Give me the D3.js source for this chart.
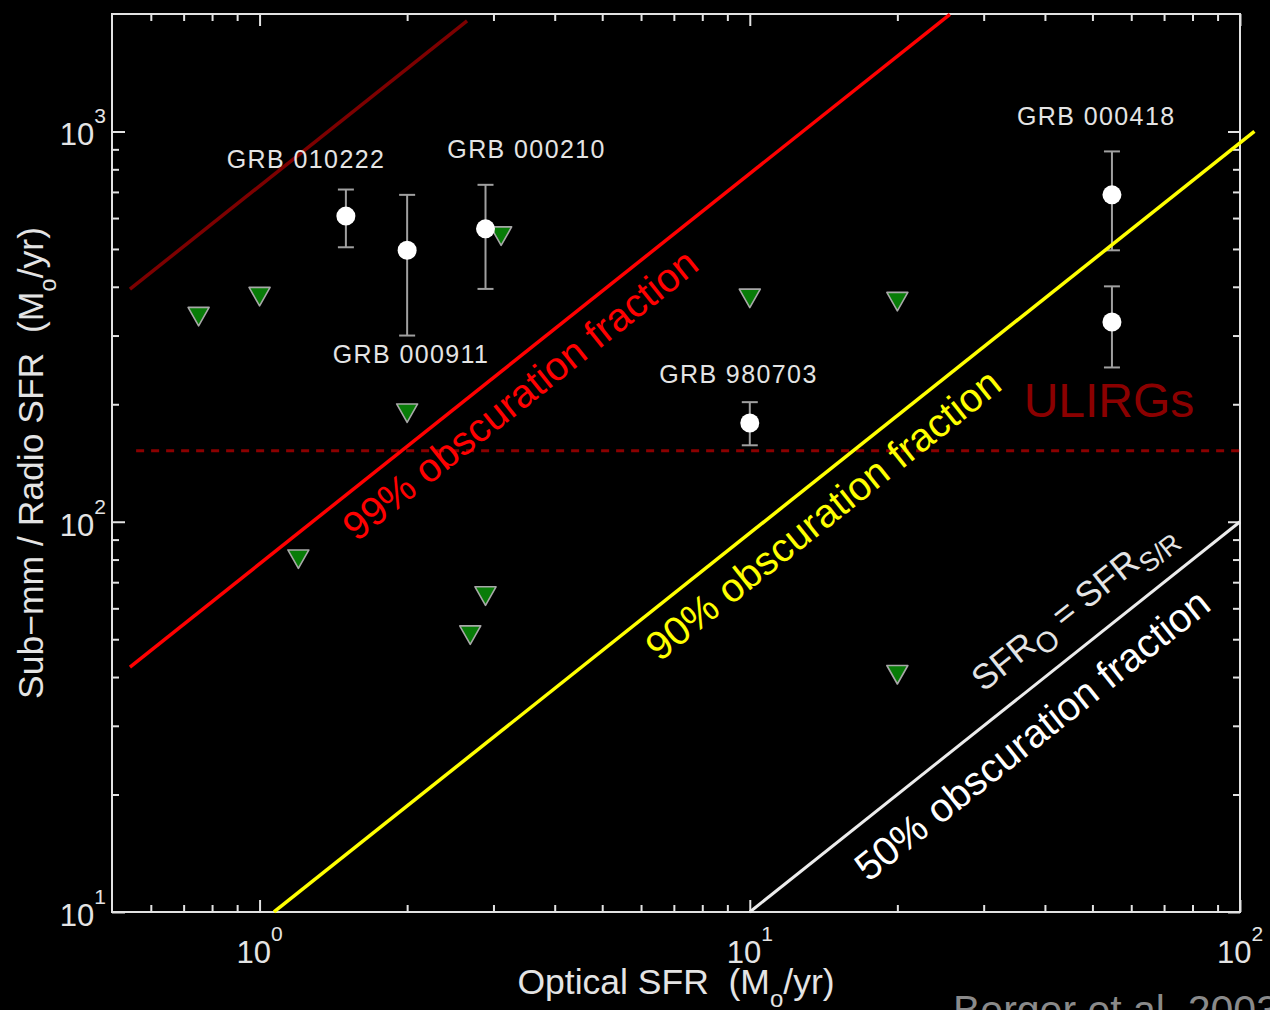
<!DOCTYPE html>
<html>
<head>
<meta charset="utf-8">
<script src="https://cdn.jsdelivr.net/npm/d3@7"></script>
<style>
  html, body { margin: 0; padding: 0; background: #000; }
  svg { display: block; font-family: Arial, "Liberation Sans", sans-serif; }
</style>
</head>
<body>
<svg id="chart" width="1270" height="1010"></svg>
<script>
// ---- GRB host detections: optical SFR vs sub-mm / radio SFR (Msun/yr) ----
const detX  = [1.50, 2.00, 2.89, 10.0, 54.8, 54.8];
const detY  = [607, 496, 563, 179, 688, 325];
const detHi = [710, 688, 730, 202.5, 889, 401];
const detLo = [505, 300, 395, 157, 496, 248.5];

// ---- upper limits (non-detections) ----
const limX = [0.751, 1.00, 2.00, 1.20, 2.89, 2.69, 3.11, 10.0, 20.0, 20.0];
const limY = [336, 378, 190, 80.3, 64.6, 51.3, 540, 374, 367, 40.6];

// ---- burst names and where they are written ----
const grbNames  = ["GRB 010222", "GRB 000210", "GRB 000911", "GRB 980703", "GRB 000418"];
const grbLabelX = [1.244, 3.505, 2.037, 9.48, 50.9];
const grbLabelY = [804, 853, 255, 226.5, 1036];

// ---- constant-ratio lines SFR_S/R = ratio * SFR_O ----
const lineKeys   = ["envelope", "f99", "f90", "f50"];
const lineRatio  = [725, 78, 9.35, 1];
const lineXStart = [0.544, 0.544, 1.07, 10];
const lineXEnd   = [2.65, 25.6, 107, 100];

// ---- ULIRG threshold ----
const ulirgSFR = 152;
const ulirgXRange = [0.56, 100];
const ulirgLabelX = 80.7;

// ---- axis ticks ----
const xMajor = [1, 10, 100];
const xMinor = [0.6, 0.7, 0.8, 0.9, 2, 3, 4, 5, 6, 7, 8, 9, 20, 30, 40, 50, 60, 70, 80, 90];
const yMajor = [10, 100, 1000];
const yMinor = [20, 30, 40, 50, 60, 70, 80, 90, 200, 300, 400, 500, 600, 700, 800, 900];
const xTickExp = ["0", "1", "2"];
const yTickExp = ["1", "2", "3"];

// ---- line labels (start point of the baseline, data units) ----
const lineLabelText = ["99% obscuration fraction", "90% obscuration fraction", "50% obscuration fraction"];
const lineLabelX = [1.577, 6.54, 17.46];
const lineLabelY = [88.5, 43.6, 11.89];
const equalityLabelX = 29.97, equalityLabelY = 36.5;

// ---- styling ----
const colors = {
  envelope: "#7d0000", f99: "#ff0000", f90: "#ffff00", f50: "#ececec",
  ulirg: "#8b0000", frame: "#e2e2e2", text: "#e4e4e4", err: "#a0a0a0",
  tri: "#087c08", triEdge: "#a8a8a8", credit: "#8a8a8a"
};
const labelColors = [colors.f99, colors.f90, "#ffffff"];
const NBSP = "\u00a0";

const svg = d3.select("#chart");
const W = 1270, H = 1010;
svg.append("rect").attr("width", W).attr("height", H).attr("fill", "#000");

const plot = { left: 112, right: 1240, top: 14, bottom: 912 };
const x = d3.scaleLog().domain([0.5, 100]).range([plot.left, plot.right]);
const y = d3.scaleLog().domain([10, 2000]).range([plot.bottom, plot.top]);

// ---- ticks via d3 axes (pointing inward on all four sides) ----
function axisGroup(axis, tx, ty) {
  const g = svg.append("g").attr("transform", `translate(${tx},${ty})`).call(axis);
  g.select(".domain").remove();
  g.selectAll("line").attr("stroke", colors.frame).attr("stroke-width", 2);
  g.selectAll("text").remove();
  return g;
}
axisGroup(d3.axisBottom(x).tickValues(xMajor).tickSize(-12).tickFormat(""), 0, plot.bottom);
axisGroup(d3.axisBottom(x).tickValues(xMinor).tickSize(-7).tickFormat(""), 0, plot.bottom);
axisGroup(d3.axisTop(x).tickValues(xMajor).tickSize(-12).tickFormat(""), 0, plot.top);
axisGroup(d3.axisTop(x).tickValues(xMinor).tickSize(-7).tickFormat(""), 0, plot.top);
axisGroup(d3.axisLeft(y).tickValues(yMajor).tickSize(-13).tickFormat(""), plot.left, 0);
axisGroup(d3.axisLeft(y).tickValues(yMinor).tickSize(-7).tickFormat(""), plot.left, 0);
axisGroup(d3.axisRight(y).tickValues(yMajor).tickSize(-12).tickFormat(""), plot.right, 0);
axisGroup(d3.axisRight(y).tickValues(yMinor).tickSize(-7).tickFormat(""), plot.right, 0);

// frame
svg.append("rect")
  .attr("x", plot.left).attr("y", plot.top)
  .attr("width", plot.right - plot.left).attr("height", plot.bottom - plot.top)
  .attr("fill", "none").attr("stroke", colors.frame).attr("stroke-width", 2);

// ---- tick labels: 10^n ----
xMajor.forEach((v, i) => {
  const t = svg.append("text")
    .attr("x", x(v)).attr("y", plot.bottom + 51)
    .attr("text-anchor", "middle").attr("fill", colors.text)
    .attr("font-size", 31);
  t.append("tspan").text("10");
  t.append("tspan").attr("dy", -22).attr("font-size", 21).text(xTickExp[i]);
});
yMajor.forEach((v, i) => {
  const t = svg.append("text")
    .attr("x", plot.left - 6).attr("y", y(v) + 14)
    .attr("text-anchor", "end").attr("fill", colors.text)
    .attr("font-size", 31);
  t.append("tspan").text("10");
  t.append("tspan").attr("dy", -22).attr("font-size", 21).text(yTickExp[i]);
});

// ---- axis titles ----
const xt = svg.append("text")
  .attr("x", (plot.left + plot.right) / 2).attr("y", 994)
  .attr("text-anchor", "middle").attr("fill", colors.text).attr("font-size", 35.5);
xt.append("tspan").text("Optical SFR " + NBSP + "(M");
xt.append("tspan").attr("dy", 13).attr("font-size", 24).text("o");
xt.append("tspan").attr("dy", -13).text("/yr)");

const yt = svg.append("text")
  .attr("transform", `translate(43,${(plot.top + plot.bottom) / 2}) rotate(-90)`)
  .attr("text-anchor", "middle").attr("fill", colors.text).attr("font-size", 35.5);
yt.append("tspan").text("Sub\u2212mm / Radio SFR " + NBSP + "(M");
yt.append("tspan").attr("dy", 13).attr("font-size", 24).text("o");
yt.append("tspan").attr("dy", -13).text("/yr)");

// ---- ULIRG threshold ----
svg.append("line")
  .attr("x1", x(ulirgXRange[0])).attr("x2", x(ulirgXRange[1]))
  .attr("y1", y(ulirgSFR)).attr("y2", y(ulirgSFR))
  .attr("stroke", colors.ulirg).attr("stroke-width", 3)
  .attr("stroke-dasharray", "8,7");
svg.append("text")
  .attr("x", x(ulirgLabelX)).attr("y", y(ulirgSFR) - 34)
  .attr("text-anchor", "end").attr("fill", colors.ulirg)
  .attr("font-size", 48).text("ULIRGs");

// ---- error bars ----
const err = svg.append("g").attr("stroke", colors.err).attr("stroke-width", 2);
detX.forEach((vx, i) => {
  const cx = x(vx);
  err.append("line").attr("x1", cx).attr("x2", cx).attr("y1", y(detLo[i])).attr("y2", y(detHi[i]));
  err.append("line").attr("x1", cx - 8).attr("x2", cx + 8).attr("y1", y(detLo[i])).attr("y2", y(detLo[i]));
  err.append("line").attr("x1", cx - 8).attr("x2", cx + 8).attr("y1", y(detHi[i])).attr("y2", y(detHi[i]));
});

// ---- constant obscuration lines ----
const lineGen = d3.line().x(d => x(d[0])).y(d => y(d[1]));
lineKeys.forEach((k, i) => {
  const pts = [[lineXStart[i], lineXStart[i] * lineRatio[i]], [lineXEnd[i], lineXEnd[i] * lineRatio[i]]];
  svg.append("path").attr("d", lineGen(pts))
    .attr("fill", "none").attr("stroke", colors[k])
    .attr("stroke-width", k === "f50" ? 3 : 3.5);
});

// ---- upper limits: downward triangles ----
svg.append("g").selectAll("path").data(limX.map((v, i) => [v, limY[i]])).join("path")
  .attr("transform", d => `translate(${x(d[0])},${y(d[1])})`)
  .attr("d", "M-10.5,-9 L10.5,-9 L0,9.5 Z")
  .attr("fill", colors.tri).attr("stroke", colors.triEdge).attr("stroke-width", 1.6)
  .attr("stroke-linejoin", "round");

// ---- detections ----
svg.append("g").selectAll("circle").data(detX.map((v, i) => [v, detY[i]])).join("circle")
  .attr("cx", d => x(d[0])).attr("cy", d => y(d[1])).attr("r", 9.5)
  .attr("fill", "#fff");

// ---- burst labels ----
grbNames.forEach((n, i) => {
  svg.append("text")
    .attr("x", x(grbLabelX[i])).attr("y", y(grbLabelY[i]))
    .attr("text-anchor", "middle").attr("fill", colors.text)
    .attr("font-size", 25).attr("letter-spacing", 1.4).text(n);
});

// ---- line labels, rotated to the slope of a unit-slope line in log-log ----
const angle = -Math.atan2(y(10) - y(100), x(10) - x(1)) * 180 / Math.PI;
lineLabelText.forEach((t, i) => {
  svg.append("text")
    .attr("transform", `translate(${x(lineLabelX[i])},${y(lineLabelY[i])}) rotate(${angle})`)
    .attr("fill", labelColors[i]).attr("font-size", 40).text(t);
});
const eq = svg.append("text")
  .attr("transform", `translate(${x(equalityLabelX)},${y(equalityLabelY)}) rotate(${angle})`)
  .attr("fill", colors.text).attr("font-size", 35);
eq.append("tspan").text("SFR");
eq.append("tspan").attr("dy", 10).attr("font-size", 29).text("O");
eq.append("tspan").attr("dy", -10).text(" = SFR");
eq.append("tspan").attr("dy", 10).attr("font-size", 27).text("S/R");

// ---- credit ----
svg.append("text")
  .attr("x", 953).attr("y", 1024)
  .attr("fill", colors.credit).attr("font-size", 41).text("Berger et al. 2003");
</script>
</body>
</html>
